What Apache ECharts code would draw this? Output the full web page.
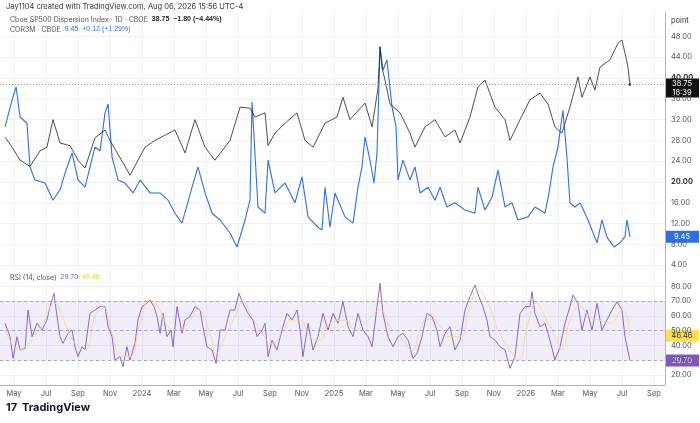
<!DOCTYPE html>
<html><head><meta charset="utf-8">
<script src="https://cdn.jsdelivr.net/npm/echarts@6/dist/echarts.min.js"></script>
<style>html,body{margin:0;background:#fff}#main{width:700px;height:423px}</style>
</head><body><div id="main"></div>
<script>
// time in months since Jan 2023 (12 = Jan 2024)
var dispT = [3.44,3.88,4.38,4.69,5.0,5.63,6.06,6.44,6.88,7.5,8.0,8.44,9.06,9.69,10.0,10.94,11.25,12.19,12.81,14.06,14.69,15.31,15.94,16.56,17.5,18.13,18.75,19.06,19.69,19.88,20.31,20.94,21.69,22.19,22.69,23.44,24.19,24.56,25.0,25.94,26.38,26.75,26.88,27.0,27.19,27.5,28.13,28.75,29.06,29.69,30.31,30.94,31.56,31.88,32.5,33.0,33.44,34.06,34.69,35.0,35.63,36.25,36.88,37.38,37.81,38.25,38.75,39.25,39.5,40.0,40.31,40.63,41.25,41.75,42.0,42.25,42.38,42.5];
var dispV = [28.6,26.7,24.2,23.6,23.0,26.0,26.7,32,27.5,27,24.2,22.7,28.5,30,28,23,21.3,26.7,28,30,25.6,32,26.7,24.2,28,34.4,34.2,32.5,33.3,27,29.4,31.3,33.3,28,26.7,31.3,32.5,36.3,32,35.2,30.6,38,46,42,39.6,35,33.3,29.4,26.7,30.6,32,28.7,30,27.5,32.5,38.3,39.6,34.4,32,28,32,35.8,37.1,35,30.6,29.4,34.4,40.2,36.3,40.2,37.7,42.1,43.5,46.7,47.3,44,42,38.75];

var corT = [3.44,3.88,4.13,4.38,4.81,5.0,5.31,5.94,6.44,6.88,7.19,7.63,8.0,8.44,9.06,9.38,9.69,9.88,10.13,10.5,10.94,11.44,11.88,12.5,13.13,13.63,14.06,14.5,15.13,15.5,15.94,16.38,16.88,17.5,17.94,18.44,18.75,18.88,19.25,19.69,19.88,20.31,20.94,21.56,22.0,22.38,23.0,23.25,23.44,23.75,24.06,24.69,25.19,25.5,25.75,25.94,26.25,26.5,26.69,26.88,27.06,27.31,27.63,27.88,28.0,28.31,28.75,29.06,29.38,29.88,30.31,30.63,31.06,31.56,32.19,32.81,33.0,33.44,33.88,34.25,34.69,35.13,35.5,36.13,36.56,37.19,37.44,37.69,38.0,38.31,38.56,38.75,39.06,39.38,39.88,40.44,40.75,41.06,41.5,41.88,42.19,42.31,42.5];
var corV = [30.6,35.8,38.3,32.5,31.3,22.9,20.4,19.8,16.5,18.5,21.7,25.6,20.4,19,26.7,26,33.3,35,24.8,20.4,19.8,17.9,20.4,17.9,17.9,16.5,14,12.1,19,22.9,17.9,14,12.7,10.2,7.5,12.7,16.5,35.4,15.2,14,24.2,17.9,19.8,16,21,13.3,11.3,10.8,19,11.3,17.9,13.3,12.1,19,22.9,28.7,24.2,19.8,25.6,46,41.5,43.5,34.4,30.6,20.4,24.2,20.4,22.9,17.9,19,16.5,19,15.2,16,14.6,14,19,14.6,17.1,22.3,15.2,16,12.7,13.3,15.2,14,17.9,22.9,26.7,33.8,24.8,16,15.2,16,12.7,8.3,12.7,9.4,7.5,8.3,9.5,12.7,9.45];

var rsiT = [3.44,3.75,3.94,4.19,4.38,4.69,4.88,5.13,5.44,5.75,6.06,6.25,6.5,6.69,6.88,7.06,7.38,7.63,7.81,8.0,8.25,8.44,8.75,9.06,9.38,9.69,9.88,10.13,10.31,10.63,10.81,11.06,11.25,11.56,11.75,12.0,12.31,12.5,12.75,12.94,13.13,13.31,13.56,13.81,13.94,14.19,14.5,14.69,15.0,15.31,15.63,15.81,16.06,16.38,16.63,16.88,17.19,17.5,17.81,18.06,18.31,18.63,18.94,19.19,19.5,19.69,19.88,20.13,20.44,20.75,21.06,21.38,21.69,21.88,22.06,22.38,22.69,23.0,23.31,23.63,23.94,24.25,24.56,24.88,25.19,25.5,25.81,26.13,26.38,26.69,26.88,27.06,27.38,27.69,28.0,28.31,28.63,28.94,29.19,29.5,29.81,30.13,30.44,30.63,30.94,31.25,31.56,31.88,32.19,32.5,32.81,33.06,33.31,33.56,33.75,34.06,34.38,34.69,35.0,35.31,35.63,35.94,36.25,36.38,36.56,36.88,37.19,37.5,37.81,38.13,38.44,38.75,38.94,39.25,39.5,39.81,40.13,40.44,40.75,41.06,41.38,41.69,42.0,42.19,42.5];
var rsiV = [54.9,45.8,31.1,45.8,36.8,37.9,63.9,45.8,54.9,50.3,57.1,66.2,75.2,59.4,45.8,41.3,48.1,50.3,39,32.3,39,36.8,61.6,63.9,66.2,66.2,52.6,45.8,30,32.3,25.5,39,30,41.3,57.1,66.2,68.4,70.7,66.2,59.4,48.1,61.6,45.8,50.3,39,66.2,48.1,57.1,59.4,66.2,63.9,52.6,39,36.8,27.7,50.3,50.3,63.9,63.9,75.2,68.4,61.6,57.1,45.8,50.3,54.9,32.3,43.5,36.8,50.3,61.6,57.1,63.9,50.3,32.3,54.9,36.8,45.8,61.6,50.3,61.6,54.9,69.5,52.6,45.8,61.6,50.3,45.8,39,66.2,82,61.6,45.8,39,45.8,48.1,43.5,31.1,34.5,45.8,61.6,59.4,50.3,39,48.1,52.6,36.8,43.5,63.9,72.9,80.8,72.9,66.2,57.1,45.8,43.5,39,36.8,24.4,32.3,61.6,66.2,66.2,76.3,61.6,52.6,54.9,43.5,30,39,54.9,66.2,74.1,68.4,50.3,63.9,50.3,68.4,50.3,57.1,63.9,69.5,63.9,45.8,29.7];

var maT = [3.44,4.38,4.69,5.63,6.56,7.19,7.81,8.44,9.06,9.56,10.13,10.75,11.25,11.88,12.5,13.0,13.63,14.25,15.0,15.5,16.25,16.63,17.19,17.81,18.31,18.88,19.5,20.13,20.75,21.38,21.88,22.5,23.13,23.75,24.69,25.31,25.94,26.88,27.5,28.13,28.88,29.38,30.0,30.63,31.25,31.88,32.5,33.0,33.63,34.25,35.0,35.5,36.13,36.63,37.19,37.81,38.25,38.75,39.38,40.0,40.63,41.25,42.0,42.5];
var maV = [50.3,36.8,39,51,68.4,54.9,41.3,36.8,59.4,66.2,48,32.3,32.3,54.9,70.7,66.2,52.6,50.3,57,64,48,34.5,45.8,59.4,69.5,59.4,48,41.3,48,57,57,45.8,43.5,55,57,50.3,55,63.9,52.6,45.8,36.8,50.3,61.6,52.6,45.8,45.8,66.2,77.4,68.4,50.3,36.8,30,55,68.4,59.4,45.8,36.8,57,66.2,59.4,57,55,64,46.46];

var monthTicks = [4,6,8,10,12,14,16,18,20,22,24,26,28,30,32,34,36,38,40,42,44];
var monthNames = ['Jan','Feb','Mar','Apr','May','Jun','Jul','Aug','Sep','Oct','Nov','Dec'];
var priceTicks = [4,8,12,16,20,24,28,32,36,40,44,48];
var rsiTicks = [20,30,40,50,60,70,80];

function pairs(t, v){ return t.map(function(x,i){ return [x, v[i]]; }); }
function monthLabel(m){
    m = Math.round(m);
    return m % 12 === 0 ? String(2023 + m/12) : monthNames[m % 12];
}
var font = 'Inter, "Noto Sans", sans-serif';
var gridC = '#eef0f3';

var chart = echarts.init(document.getElementById('main'));
var xBase = {
    type:'value', min:3.125, max:44.69,
    axisLine:{show:false}, axisTick:{show:false},
    splitLine:{show:true, lineStyle:{color:gridC, width:1}},
    axisLabel:{show:false, customValues:monthTicks},
};
chart.setOption({
    animation:false,
    textStyle:{fontFamily:font},
    grid:[
        {left:0, right:35, top:12, bottom:141},
        {left:0, right:35, top:282, bottom:38}
    ],
    xAxis:[
        Object.assign({gridIndex:0}, xBase, {splitLine:{show:true,lineStyle:{color:gridC}, customValues:monthTicks}, axisTick:{show:false, customValues:monthTicks}}),
        Object.assign({gridIndex:1}, xBase, {
            axisLine:{show:true, onZero:false, lineStyle:{color:'#b2b5be'}},
            axisTick:{show:false, customValues:monthTicks},
            axisLabel:{show:true, customValues:monthTicks, fontSize:7.5, color:'#555', margin:5,
                formatter:function(v){ return monthLabel(v); },
                rich:{}}
        })
    ],
    yAxis:[
        {gridIndex:0, position:'right', min:0.77, max:52.7,
         axisLine:{show:true, lineStyle:{color:'#b2b5be'}}, axisTick:{show:false, customValues:priceTicks},
         splitLine:{show:true, lineStyle:{color:gridC}, customValues:priceTicks},
         axisLabel:{customValues:priceTicks, fontSize:7.5, color:'#555', margin:6,
            formatter:function(v){ return (v===20||v===40) ? '{b|'+v.toFixed(2)+'}' : v.toFixed(2); },
            rich:{b:{fontWeight:'bold', fontSize:7.5, color:'#333'}}}},
        {gridIndex:1, position:'right', min:13.05, max:82.9,
         axisLine:{show:true, lineStyle:{color:'#b2b5be'}}, axisTick:{show:false, customValues:rsiTicks},
         splitLine:{show:true, lineStyle:{color:gridC}, customValues:rsiTicks},
         axisLabel:{customValues:rsiTicks, fontSize:7.5, color:'#555', margin:6,
            formatter:function(v){ return v.toFixed(2); }}}
    ],
    series:[
        {name:'COR3M', type:'line', xAxisIndex:0, yAxisIndex:0, data:pairs(corT,corV), showSymbol:false,
         lineStyle:{color:'#2f6fe4', width:1.1}},
        {name:'Dispersion', type:'line', xAxisIndex:0, yAxisIndex:0, data:pairs(dispT,dispV), showSymbol:false,
         lineStyle:{color:'#222', width:0.8},
         markLine:{silent:true, symbol:'none', label:{show:false},
            lineStyle:{color:'#888', type:[1,2], width:0.8}, data:[{yAxis:dispV[dispV.length-1]}]}},
        {name:'RSI', type:'line', xAxisIndex:1, yAxisIndex:1, data:pairs(rsiT,rsiV), showSymbol:false,
         lineStyle:{color:'#7e57c2', width:0.9},
         markArea:{silent:true, itemStyle:{color:'rgba(126,87,194,0.1)'}, data:[[{yAxis:30},{yAxis:70}]]},
         markLine:{silent:true, symbol:'none', label:{show:false},
            lineStyle:{color:'#9c95b0', type:[3,3], width:0.8}, data:[{yAxis:30},{yAxis:50},{yAxis:70}]}},
        {name:'RSI MA', type:'line', xAxisIndex:1, yAxisIndex:1, data:pairs(maT,maV), showSymbol:false, smooth:true,
         lineStyle:{color:'#f6d98a', width:0.9}}
    ]
});

function yPix(idx, v){ return chart.convertToPixel({yAxisIndex:idx}, v); }
function tag(idx, v, bg, txt, h){
    var y = yPix(idx, v);
    return {type:'group', children:[
        {type:'rect', shape:{x:666, y:y-6, width:33, height:h||12}, style:{fill:bg}},
        {type:'text', style:{x:682, y:y+(h?h/2-6:0), text:txt, fill:'#fff', font:'7.5px '+font, align:'center', verticalAlign:'middle', lineHeight:9}}
    ]};
}
var lastD = dispV[dispV.length-1], lastC = corV[corV.length-1], lastR = rsiV[rsiV.length-1], lastM = maV[maV.length-1];
var yellowTag = tag(1, lastM, '#fbe14d', lastM.toFixed(2));
yellowTag.children[1].style.fill = '#333';
chart.setOption({graphic:[
    {type:'text', left:6, top:3, style:{text:'Jay1104 created with TradingView.com, Aug 06, 2026 15:56 UTC-4', fill:'#333', font:'7.5px '+font}},
    {type:'text', left:10, top:16, style:{text:'Cboe SP500 Dispersion Index · 1D · CBOE  {b|38.75  −1.80 (−4.44%)}', fill:'#555', font:'7px '+font,
        rich:{b:{fill:'#222', fontWeight:'bold', fontSize:7}}}},
    {type:'text', left:10, top:26, style:{text:'COR3M · CBOE  {b|9.45  +0.12 (+1.29%)}', fill:'#555', font:'7px '+font,
        rich:{b:{fill:'#2f6fe4', fontSize:7}}}},
    {type:'text', left:10, top:274, style:{text:'RSI (14, close)  {p|29.70}  {y|46.46}', fill:'#555', font:'7px '+font,
        rich:{p:{fill:'#7e57c2', fontSize:7}, y:{fill:'#f2c94c', fontSize:7}}}},
    {type:'text', left:671, top:17, style:{text:'point', fill:'#333', font:'7.5px '+font}},
    {type:'circle', shape:{cx:chart.convertToPixel({xAxisIndex:0}, dispT[dispT.length-1]), cy:yPix(0,lastD), r:1.3}, style:{fill:'#222'}},
    tag(0, lastD, '#111', lastD.toFixed(2)+'\n18:39', 19),
    tag(0, lastC, '#2f6fe4', lastC.toFixed(2)),
    yellowTag,
    tag(1, lastR, '#7e57c2', lastR.toFixed(2)),
    {type:'text', left:6, top:402, style:{text:'17', fill:'#131722', font:'bold 11px '+font}},
    {type:'text', left:22, top:402, style:{text:'TradingView', fill:'#131722', font:'bold 11px '+font}}
]});
</script></body></html>
